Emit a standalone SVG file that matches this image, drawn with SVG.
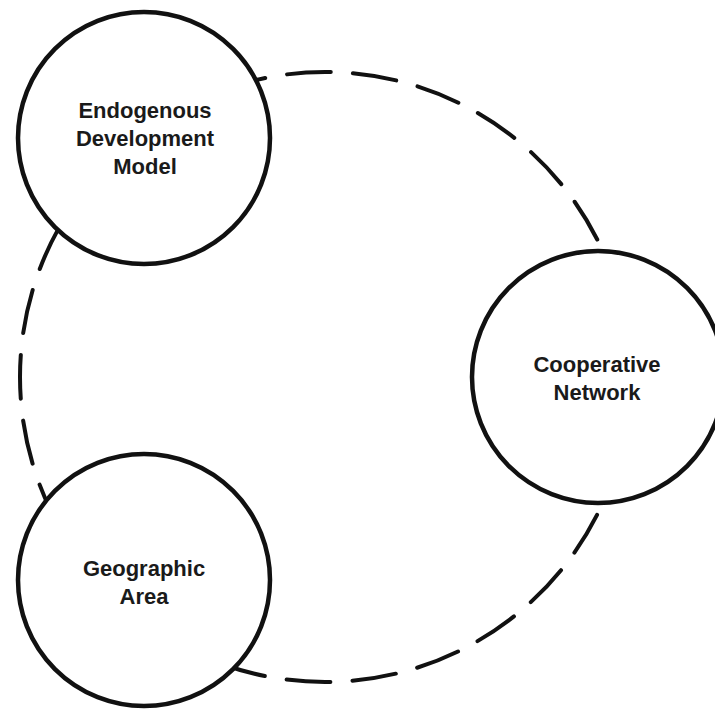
<svg xmlns="http://www.w3.org/2000/svg" width="715" height="715" viewBox="0 0 715 715">
<style>
  .node { fill: #ffffff; stroke: #111111; stroke-width: 4.5; }
  .label { font-family: "Liberation Sans", Arial, sans-serif; font-weight: bold; font-size: 22px; fill: #1a1a1a; text-anchor: middle; }
  .ring { fill: none; stroke: #111111; stroke-width: 4; stroke-dasharray: 44 22.08; stroke-dashoffset: 55.2; stroke-linecap: round; }
</style>
<rect width="715" height="715" fill="#ffffff"/>
<g id="connectors">
  <circle class="ring" cx="325" cy="377" r="305"/>
</g>
<g id="endogenous">
  <circle class="node" cx="144" cy="138" r="126"/>
  <text class="label" x="145" y="118">Endogenous</text>
  <text class="label" x="145" y="146">Development</text>
  <text class="label" x="145" y="174">Model</text>
</g>
<g id="cooperative">
  <circle class="node" cx="598" cy="377" r="126"/>
  <text class="label" x="597" y="372">Cooperative</text>
  <text class="label" x="597" y="400">Network</text>
</g>
<g id="geographic">
  <circle class="node" cx="144" cy="580" r="126"/>
  <text class="label" x="144" y="576">Geographic</text>
  <text class="label" x="144" y="604">Area</text>
</g>
</svg>
